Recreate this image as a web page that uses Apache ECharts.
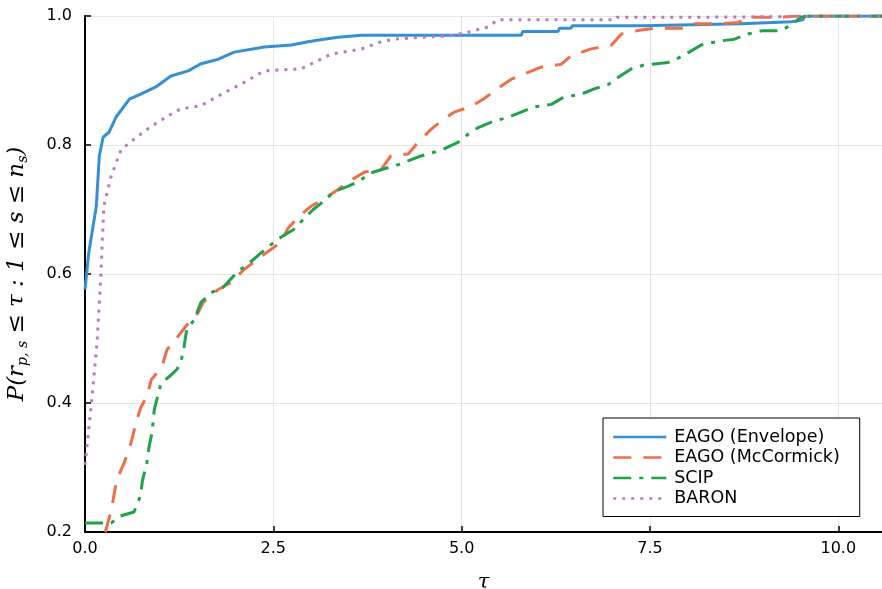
<!DOCTYPE html>
<html>
<head>
<meta charset="utf-8">
<script src="https://cdn.jsdelivr.net/npm/echarts@6/dist/echarts.min.js"></script>
<style>
  html, body { margin: 0; padding: 0; background: #fff; }
  #profile { width: 882px; height: 589px; }
</style>
</head>
<body>
<div id="profile"></div>
<script>
// performance profile
var seriesNames = ['EAGO (Envelope)', 'EAGO (McCormick)', 'SCIP', 'BARON'];

var envelopeTau = [0, 0.05, 0.15, 0.19, 0.24, 0.32, 0.41, 0.59, 0.74, 0.94, 1.14, 1.37, 1.54, 1.77, 1.98, 2.38, 2.74, 2.96, 3.17, 3.36, 3.67, 5.79, 5.81, 6.28, 6.30, 6.45, 6.47, 7.41, 7.43, 8.71, 8.73, 9.38, 9.40, 9.53, 9.55, 10.58];
var envelopeP   = [0.576, 0.633, 0.705, 0.783, 0.812, 0.820, 0.843, 0.871, 0.879, 0.890, 0.907, 0.915, 0.926, 0.933, 0.944, 0.952, 0.955, 0.960, 0.964, 0.967, 0.970, 0.970, 0.976, 0.976, 0.981, 0.981, 0.985, 0.985, 0.988, 0.988, 0.991, 0.991, 0.994, 0.994, 1.0, 1.0];

var mccormickTau = [0.27, 0.35, 0.42, 0.52, 0.61, 0.69, 0.74, 0.82, 0.88, 1.02, 1.09, 1.22, 1.34, 1.50, 1.57, 1.77, 1.94, 2.11, 2.25, 2.43, 2.60, 2.69, 2.83, 3.00, 3.17, 3.36, 3.51, 3.71, 3.93, 4.06, 4.29, 4.42, 4.60, 4.73, 4.90, 5.13, 5.30, 5.52, 5.66, 6.06, 6.32, 6.45, 6.72, 6.99, 7.12, 7.36, 7.56, 7.92, 8.09, 8.45, 8.67, 8.84, 9.20, 9.47, 10.58];
var mccormickP   = [0.2, 0.234, 0.281, 0.307, 0.338, 0.374, 0.393, 0.410, 0.436, 0.456, 0.483, 0.501, 0.519, 0.540, 0.556, 0.576, 0.587, 0.607, 0.619, 0.635, 0.649, 0.670, 0.688, 0.705, 0.716, 0.731, 0.744, 0.758, 0.762, 0.783, 0.786, 0.804, 0.825, 0.837, 0.851, 0.860, 0.872, 0.891, 0.902, 0.921, 0.925, 0.938, 0.949, 0.955, 0.972, 0.978, 0.981, 0.981, 0.988, 0.988, 0.990, 0.998, 0.998, 1.0, 1.0];

var scipTau = [0, 0.35, 0.45, 0.65, 0.74, 0.76, 0.82, 0.85, 0.89, 0.92, 0.96, 1.01, 1.12, 1.22, 1.27, 1.31, 1.35, 1.45, 1.54, 1.67, 1.83, 2.03, 2.16, 2.31, 2.44, 2.60, 2.77, 2.90, 3.03, 3.17, 3.31, 3.49, 3.64, 3.80, 4.17, 4.46, 4.75, 4.95, 5.09, 5.22, 5.43, 5.62, 5.79, 5.96, 6.19, 6.35, 6.59, 6.76, 6.95, 7.08, 7.25, 7.42, 7.74, 7.88, 8.02, 8.18, 8.41, 8.62, 8.80, 8.98, 9.24, 9.42, 9.50, 9.64, 10.58];
var scipP   = [0.214, 0.214, 0.224, 0.231, 0.257, 0.278, 0.307, 0.332, 0.354, 0.390, 0.408, 0.431, 0.441, 0.452, 0.462, 0.483, 0.514, 0.529, 0.556, 0.571, 0.579, 0.604, 0.615, 0.630, 0.643, 0.657, 0.669, 0.685, 0.700, 0.713, 0.728, 0.736, 0.744, 0.757, 0.770, 0.783, 0.793, 0.804, 0.817, 0.827, 0.837, 0.843, 0.851, 0.859, 0.863, 0.874, 0.879, 0.887, 0.894, 0.905, 0.918, 0.924, 0.928, 0.935, 0.944, 0.955, 0.961, 0.964, 0.972, 0.977, 0.977, 0.990, 0.998, 1.0, 1.0];

var baronTau = [0, 0.09, 0.16, 0.21, 0.25, 0.345, 0.48, 0.65, 0.88, 1.10, 1.27, 1.54, 1.77, 2.11, 2.38, 2.87, 3.04, 3.27, 3.67, 3.93, 4.10, 4.46, 4.82, 5.09, 5.35, 5.48, 7.03, 7.06, 8.03, 8.05, 10.58];
var baronP   = [0.304, 0.405, 0.494, 0.596, 0.705, 0.751, 0.793, 0.809, 0.829, 0.845, 0.856, 0.861, 0.876, 0.897, 0.915, 0.918, 0.928, 0.941, 0.949, 0.960, 0.964, 0.967, 0.969, 0.975, 0.983, 0.994, 0.994, 0.998, 0.998, 1.0, 1.0];

var xTicks = [0, 2.5, 5, 7.5, 10];

function pairs(xs, ys) {
  var out = [];
  for (var i = 0; i < xs.length; i++) out.push([xs[i], ys[i]]);
  return out;
}

var chart = echarts.init(document.getElementById('profile'));

var labelFont = { color: '#000', fontFamily: 'DejaVu Sans', fontSize: 16 };

function lineSeries(name, data, color, dash) {
  return {
    name: name,
    type: 'line',
    data: data,
    symbol: 'none',
    animation: false,
    lineStyle: { color: color, width: 3, type: dash, cap: 'butt' },
    itemStyle: { color: color }
  };
}

var option = {
  backgroundColor: '#fff',
  animation: false,
  grid: { left: 85, right: 0, top: 16, bottom: 57, outerBoundsMode: 'none' },
  legend: {
    orient: 'vertical',
    left: 603,
    top: 418,
    padding: [10, 20, 9, 9],
    itemGap: 2.5,
    itemWidth: 53,
    itemHeight: 14,
    borderColor: '#000',
    borderWidth: 1,
    borderRadius: 0,
    backgroundColor: '#fff',
    itemStyle: { opacity: 0 },
    lineStyle: { width: 2.5 },
    textStyle: { color: '#000', fontFamily: 'DejaVu Sans', fontSize: 17.5, padding: [0, 0, 0, 3] },
    data: seriesNames
  },
  xAxis: {
    type: 'value',
    min: 0,
    max: 10.58,
    interval: 2.5,
    name: 'τ',
    nameLocation: 'middle',
    nameGap: 40,
    nameTextStyle: { fontFamily: 'DejaVu Serif', fontStyle: 'italic', fontSize: 21, color: '#000' },
    axisLine: { lineStyle: { color: '#000', width: 2 } },
    axisTick: { inside: true, length: 6, lineStyle: { color: '#000', width: 1.5 } },
    axisLabel: Object.assign({ margin: 9, showMaxLabel: false, formatter: function(v) {
      return xTicks.indexOf(v) >= 0 ? v.toFixed(1) : '';
    } }, labelFont),
    splitLine: { show: true, lineStyle: { color: '#e6e6e6', width: 1 } }
  },
  yAxis: {
    type: 'value',
    min: 0.2,
    max: 1.0,
    interval: 0.2,
    name: '{a|P(r}{s|p, s}{a| ≤ τ : 1 ≤ s ≤ n}{s|s}{a|)}',
    nameLocation: 'middle',
    nameGap: 55,
    nameTextStyle: {
      color: '#000',
      rich: {
        a: { fontFamily: 'DejaVu Serif', fontStyle: 'italic', fontSize: 23, color: '#000' },
        s: { fontFamily: 'DejaVu Serif', fontStyle: 'italic', fontSize: 14, color: '#000', padding: [11, 0, 0, 0] }
      }
    },
    axisLine: { show: true, lineStyle: { color: '#000', width: 2 } },
    axisTick: { show: true, inside: true, length: 6, lineStyle: { color: '#000', width: 1.5 } },
    axisLabel: Object.assign({ margin: 13, formatter: function(v) { return v.toFixed(1); } }, labelFont),
    splitLine: { show: true, lineStyle: { color: '#e6e6e6', width: 1 } }
  },
  series: [
    lineSeries(seriesNames[0], pairs(envelopeTau, envelopeP), '#3590d3', 'solid'),
    lineSeries(seriesNames[1], pairs(mccormickTau, mccormickP), '#ee6e4a', [18, 12]),
    lineSeries(seriesNames[2], pairs(scipTau, scipP), '#20a14b', [18, 8, 4, 8]),
    lineSeries(seriesNames[3], pairs(baronTau, baronP), '#b77bbb', [3, 6])
  ]
};

chart.setOption(option);
</script>
</body>
</html>
